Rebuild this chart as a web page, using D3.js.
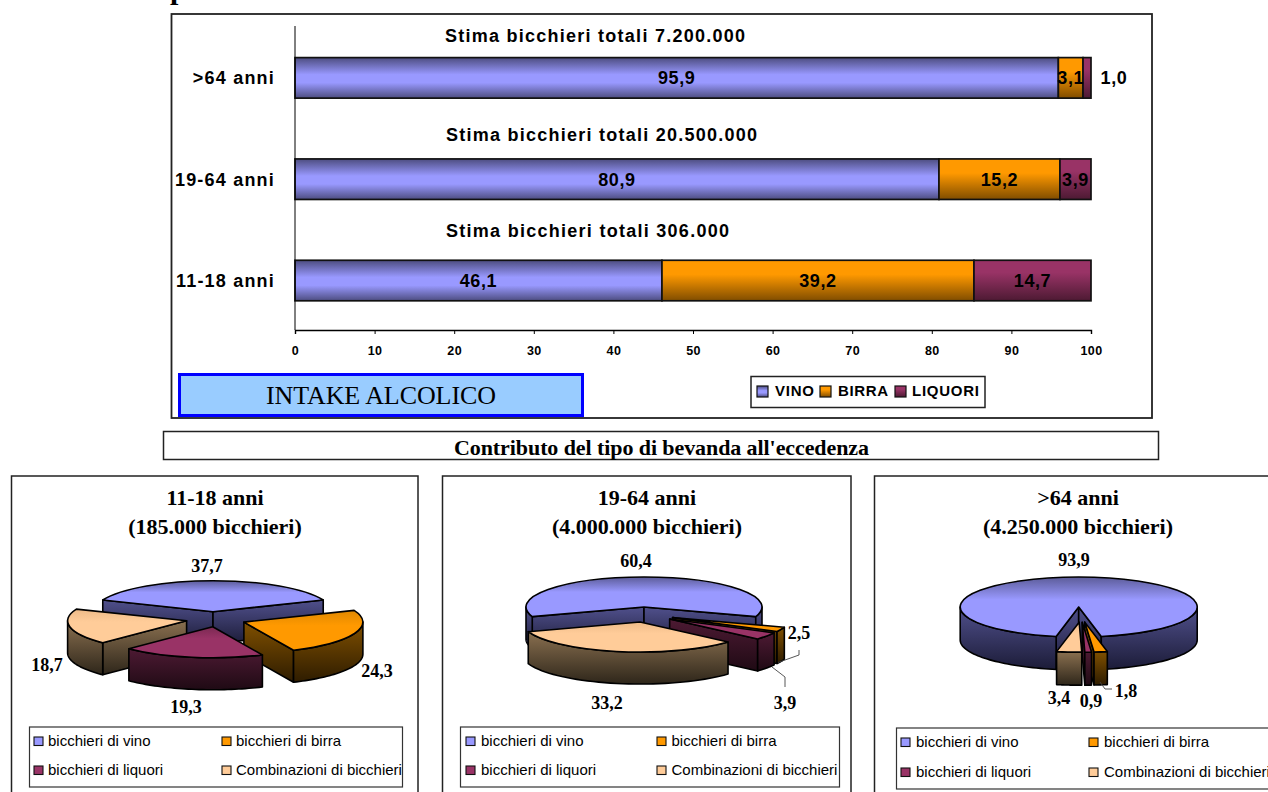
<!DOCTYPE html>
<html><head><meta charset="utf-8">
<script src="https://cdn.jsdelivr.net/npm/d3@7/dist/d3.min.js"></script>
<style>html,body{margin:0;padding:0;background:#fff;overflow:hidden}svg{display:block}
text{fill:#000}.sans{font-family:"Liberation Sans",Arial,sans-serif}.serif{font-family:"Liberation Serif","Times New Roman",serif}</style>
</head><body><svg id="c" width="1268" height="792"></svg>
<script>
// ---- data ----
const ageGroups = [">64 anni", "19-64 anni", "11-18 anni"];
const barSeries = ["VINO", "BIRRA", "LIQUORI"];
const vino    = [95.9, 80.9, 46.1];
const birra   = [3.1, 15.2, 39.2];
const liquori = [1.0, 3.9, 14.7];
const barTotals = ["Stima bicchieri totali 7.200.000", "Stima bicchieri totali 20.500.000", "Stima bicchieri totali 306.000"];
const xTicks = [0,10,20,30,40,50,60,70,80,90,100];
const pieSeries = ["bicchieri di vino", "bicchieri di birra", "bicchieri di liquori", "Combinazioni di bicchieri"];
const pieTitles = ["11-18 anni", "19-64 anni", ">64 anni"];
const pieSubtitles = ["(185.000 bicchieri)", "(4.000.000 bicchieri)", "(4.250.000 bicchieri)"];
const pie1118 = [37.7, 24.3, 19.3, 18.7];
const pie1964 = [60.4, 2.5, 3.9, 33.2];
const pie64   = [93.9, 1.8, 0.9, 3.4];

// ---- layout & style ----
const svg = d3.select("#c");
const defs = svg.append("defs");
const fmt = v => d3.format(".1f")(v).replace(".", ",");
const palette = [
  {top:"#9999ff", edge:"#5c5c99", s0:"#50508c", s1:"#1c1c38"},
  {top:"#ff9900", edge:"#e08800", s0:"#805000", s1:"#2e1c00"},
  {top:"#993366", edge:"#7a2952", s0:"#4d1a33", s1:"#1f0a14"},
  {top:"#ffcc99", edge:"#eebb88", s0:"#8a7050", s1:"#2e261a"}
];
function grad(id, stops){
  const g = defs.append("linearGradient").attr("id",id).attr("x1",0).attr("y1",0).attr("x2",0).attr("y2",1);
  stops.forEach(([o,c])=>g.append("stop").attr("offset",o).attr("stop-color",c));
}
palette.forEach((p,i)=>{
  grad("top"+i, [[0,p.edge],[.38,p.top],[1,p.top]]);
  grad("side"+i, [[0,p.s0],[1,p.s1]]);
});
grad("barVino", [[0,"#4d4d80"],[.42,"#9999ff"],[.62,"#9999ff"],[1,"#4d4d80"]]);
grad("barBirra", [[0,"#ff9900"],[.35,"#ff9900"],[1,"#804d00"]]);
grad("barLiq", [[0,"#993366"],[.3,"#993366"],[1,"#4d1a33"]]);
const barFills = ["url(#barVino)","url(#barBirra)","url(#barLiq)"];

const box = (x,y,w,h,sw=1.5,st="#222",fill="#fff") => svg.append("rect").attr("x",x).attr("y",y).attr("width",w).attr("height",h).attr("fill",fill).attr("stroke",st).attr("stroke-width",sw);
const txt = (x,y,s,cls,size,weight,anchor,len) => {
  const t = svg.append("text").attr("class",cls).attr("x",x).attr("y",y).attr("font-size",size).attr("font-weight",weight).attr("text-anchor",anchor).text(s);
  if(len) t.attr("textLength",len).attr("lengthAdjust","spacing");
  return t;
};

// clipped title fragment at the very top of the page
txt(170,-1,"p","serif",30,"bold","start");

// ---- top bar chart ----
box(171.5,14,980.5,404,1.8);
const x = d3.scaleLinear().domain([0,100]).range([295,1091]);
const y = d3.scaleBand().domain(ageGroups).range([27.2,331.2]).paddingInner(0.6).paddingOuter(0.3);
const stack = d3.stack().keys([0,1,2]).value((d,k)=>d[k])(ageGroups.map((g,i)=>[vino[i],birra[i],liquori[i]]));

const bars = svg.append("g");
stack.forEach((layer,k)=>{
  bars.selectAll(null).data(layer).join("rect")
    .attr("x",d=>x(d[0])).attr("width",d=>x(d[1])-x(d[0]))
    .attr("y",(d,i)=>y(ageGroups[i])).attr("height",y.bandwidth())
    .attr("fill",barFills[k]).attr("stroke","#111").attr("stroke-width",1.7);
});
const ax = svg.append("g").attr("transform","translate(0,330)")
  .call(d3.axisBottom(x).tickValues(xTicks).tickSize(4).tickPadding(12).tickFormat(d3.format("d")));
ax.select(".domain").attr("stroke","#000").attr("stroke-width",1.4);
ax.selectAll("line").attr("stroke","#000");
ax.selectAll("text").attr("class","sans").attr("font-size",12.5).attr("font-weight","bold").attr("fill","#000").attr("style","letter-spacing:.4px");
svg.append("line").attr("x1",295).attr("x2",295).attr("y1",26).attr("y2",330).attr("stroke","#000").attr("stroke-width",1);

ageGroups.forEach((g,i)=>{
  const cy = y(g)+y.bandwidth()/2;
  txt(275,cy+6.5,g,"sans",18,"bold","end").attr("style","letter-spacing:1.2px");
  [vino[i],birra[i],liquori[i]].forEach((v,k)=>{
    const s = stack[k][i];
    const outside = k===2 && v<2;
    const px = outside ? 1114 : (x(s[0])+x(s[1]))/2;
    txt(px,cy+6.5,fmt(v),"sans",18,"bold","middle").attr("style","letter-spacing:.6px");
  });
});
const totalX = [445,446,446], totalY = [42,141,237], totalLen = [300,311,283];
barTotals.forEach((s,i)=>txt(totalX[i],totalY[i],s,"sans",18,"bold","start",totalLen[i]));

box(179.5,374.5,403,41,3,"#0000ff","#99ccff");
txt(381,404,"INTAKE ALCOLICO","serif",26,"normal","middle",230);

box(751,376.5,234,31,1.5,"#222");
const lgX = [757,820,895], lgT=[775,838,912], lgL=[39,50,67];
barSeries.forEach((s,k)=>{
  svg.append("rect").attr("x",lgX[k]).attr("y",386).attr("width",11).attr("height",11).attr("fill",barFills[k]).attr("stroke","#111").attr("stroke-width",1.2);
  txt(lgT[k],396,s,"sans",15,"bold","start",lgL[k]);
});

box(163.5,431.5,995,28,1.5,"#222");
txt(661.5,455,"Contributo del tipo di bevanda all'eccedenza","serif",22,"bold","middle",415);

// ---- exploded 3D pies ----
const pieConf = [
  {values:pie1118, panel:[11.5,476,406.5], cx:213,   cy:619.3, rx:119,   ry:31, depth:32, tc:215,
   nudge:[0,3,5,3],
   labels:[[207,572],[377,677],[186,713],[47,671]], leaders:[],
   lg:[29.5,727,373,60], sw:[34,222], tx:[48,236], rows:[746,775]},
  {values:pie1964, panel:[442.5,476,408.5], cx:644,  cy:614.6, rx:118,   ry:30, depth:32, tc:647,
   nudge:[0,1,1,2],
   labels:[[636,567],[799,639],[785,709],[607,709]],
   leaders:[[[778,662.5],[799,655],[799,650]],[[772,667],[785,677],[785,687]]],
   lg:[460.5,727,379,60], sw:[466,657], tx:[481,671.5], rows:[746,775]},
  {values:pie64, panel:[874.5,476,420], cx:1078.7, cy:614.6, rx:118.5, ry:30, depth:33, tc:1078,
   nudge:[0,2,2,3],
   labels:[[1074,566],[1126,697],[1091,707],[1059,704]],
   leaders:[[[1100,682],[1105,689],[1112,689]]],
   lg:[896.5,728,400,61], sw:[901,1089], tx:[916,1104], rows:[747,777]}
];
const explodeX = 30, explodeY = 7.6;

pieConf.forEach((cfg,pi)=>{
  box(cfg.panel[0],cfg.panel[1],cfg.panel[2],340,1.5,"#222");
  txt(cfg.tc,505,pieTitles[pi],"serif",22,"bold","middle");
  txt(cfg.tc,534,pieSubtitles[pi],"serif",22,"bold","middle");

  const half = cfg.values[0]/100*Math.PI;
  const slices = d3.pie().value(d=>d).sort(null).startAngle(-half).endAngle(2*Math.PI-half)(cfg.values);
  const line = d3.line();
  const arcGen = d3.arc().innerRadius(0).outerRadius(cfg.rx);
  const order = slices.map((s,i)=>{
    const m=(s.startAngle+s.endAngle)/2;
    return {s,i,m,ax:cfg.cx+explodeX*Math.sin(m)+cfg.nudge[i],ay:cfg.cy-explodeY*Math.cos(m),rank:i===0?-1:Math.PI-Math.abs(Math.PI-m)};
  }).sort((a,b)=>a.rank-b.rank);

  const g = svg.append("g");
  order.forEach(o=>{
    const pt = (a,dy=0)=>[o.ax+cfg.rx*Math.sin(a), o.ay-cfg.ry*Math.cos(a)+dy];
    const style = sel=>sel.attr("stroke","#000").attr("stroke-width",1.6).attr("stroke-linejoin","round");
    const a0=o.s.startAngle,a1=o.s.endAngle;
    const radial=a=>g.append("path").attr("d",line([[o.ax,o.ay],pt(a),pt(a,cfg.depth),[o.ax,o.ay+cfg.depth]])+"Z").attr("fill","url(#side"+o.i+")").call(style);
    if(Math.sin(a0)<0) radial(a0);
    if(Math.sin(a1)>0) radial(a1);
    // outer wall: front half of the rim only (check both windings of the angle range)
    [[a0,a1],[a0+2*Math.PI,a1+2*Math.PI]].forEach(([p,q])=>{
      const lo=Math.max(p,Math.PI/2),hi=Math.min(q,Math.PI*1.5);
      if(hi>lo){
        const as=d3.range(0,41).map(t=>lo+(hi-lo)*t/40);
        const pts=as.map(a=>pt(a)).concat(as.slice().reverse().map(a=>pt(a,cfg.depth)));
        g.append("path").attr("d",line(pts)+"Z").attr("fill","url(#side"+o.i+")").call(style);
      }
    });
    g.append("path").attr("d",arcGen(o.s))
      .attr("transform",`translate(${o.ax},${o.ay}) scale(1,${cfg.ry/cfg.rx})`)
      .attr("vector-effect","non-scaling-stroke")
      .attr("fill","url(#top"+o.i+")").call(style);
  });

  cfg.leaders.forEach(l=>svg.append("path").attr("d",line(l)).attr("fill","none").attr("stroke","#444").attr("stroke-width",.9));
  cfg.values.forEach((v,i)=>txt(cfg.labels[i][0],cfg.labels[i][1],fmt(v),"serif",18,"bold","middle"));

  // legend
  box(cfg.lg[0],cfg.lg[1],cfg.lg[2],cfg.lg[3],1.2,"#333");
  pieSeries.forEach((s,i)=>{
    const col=i%2,row=i>>1;
    svg.append("rect").attr("x",cfg.sw[col]).attr("y",cfg.rows[row]-9).attr("width",9).attr("height",8.5)
      .attr("fill",palette[i].top).attr("stroke","#111").attr("stroke-width",1.1);
    txt(cfg.tx[col],cfg.rows[row],s,"sans",15,"normal","start");
  });
});
</script></body></html>
